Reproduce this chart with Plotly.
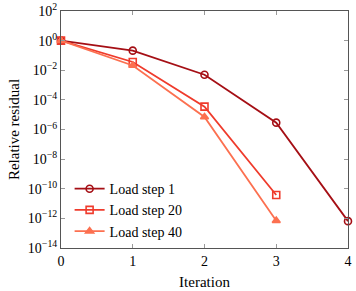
import plotly.graph_objects as go

iterations = [0, 1, 2, 3, 4]
step1 = [1.0, 0.21, 5e-3, 2.9e-6, 6.5e-13]
step20 = [1.0, 0.036, 3.5e-5, 3.8e-11]
step40 = [1.0, 0.021, 7e-6, 7e-13]
names = ["Load step 1", "Load step 20", "Load step 40"]
colors = ["#A50F15", "#EF3B2C", "#FC7050"]
ytick_exp = [2, 0, -2, -4, -6, -8, -10, -12, -14]

fig = go.Figure()
series = [step1, step20, step40]
symbols = ["circle-open", "square-open", "triangle-up"]
for name, vals, col, sym in zip(names, series, colors, symbols):
    fig.add_trace(go.Scatter(
        x=iterations[:len(vals)], y=vals, mode="lines+markers", name=name,
        line=dict(color=col, width=1.8), cliponaxis=False,
        marker=dict(symbol=sym, size=7, color=col,
                    line=dict(color=col, width=1.6)),
    ))

def lab(e):
    s = str(e).replace("-", "\u2212")
    return f"10<sup>{s}</sup>"

SERIF = "Liberation Serif, Times New Roman, serif"
axis_common = dict(
    showline=True, linecolor="#555555", linewidth=1, mirror="ticks",
    ticks="inside", ticklen=4, tickcolor="#999999",
    showgrid=False, zeroline=False, automargin=False,
    tickfont=dict(family=SERIF, size=14, color="black"),
)

fig.update_layout(
    width=356, height=291,
    margin=dict(l=61, r=8, t=11, b=43),
    paper_bgcolor="white", plot_bgcolor="white",
    font=dict(family=SERIF, size=13, color="black"),
    showlegend=True,
    legend=dict(x=0.03, y=0.16, xanchor="left", yanchor="middle",
                bgcolor="rgba(255,255,255,0)", borderwidth=0,
                font=dict(family=SERIF, size=14), tracegroupgap=0),
    xaxis=dict(range=[0, 4], tickvals=iterations, title=dict(text="Iteration", standoff=8,
               font=dict(family=SERIF, size=15)), **axis_common),
    yaxis=dict(type="log", range=[-14, 2], tickvals=[10.0**e for e in ytick_exp],
               ticktext=[lab(e) for e in ytick_exp],
               title=dict(text="Relative residual", standoff=4,
                          font=dict(family=SERIF, size=15)), **axis_common),
)

fig.write_html("out.html", config={"displayModeBar": False},
               post_script="document.body.style.margin='0';document.body.style.overflow='hidden';")
